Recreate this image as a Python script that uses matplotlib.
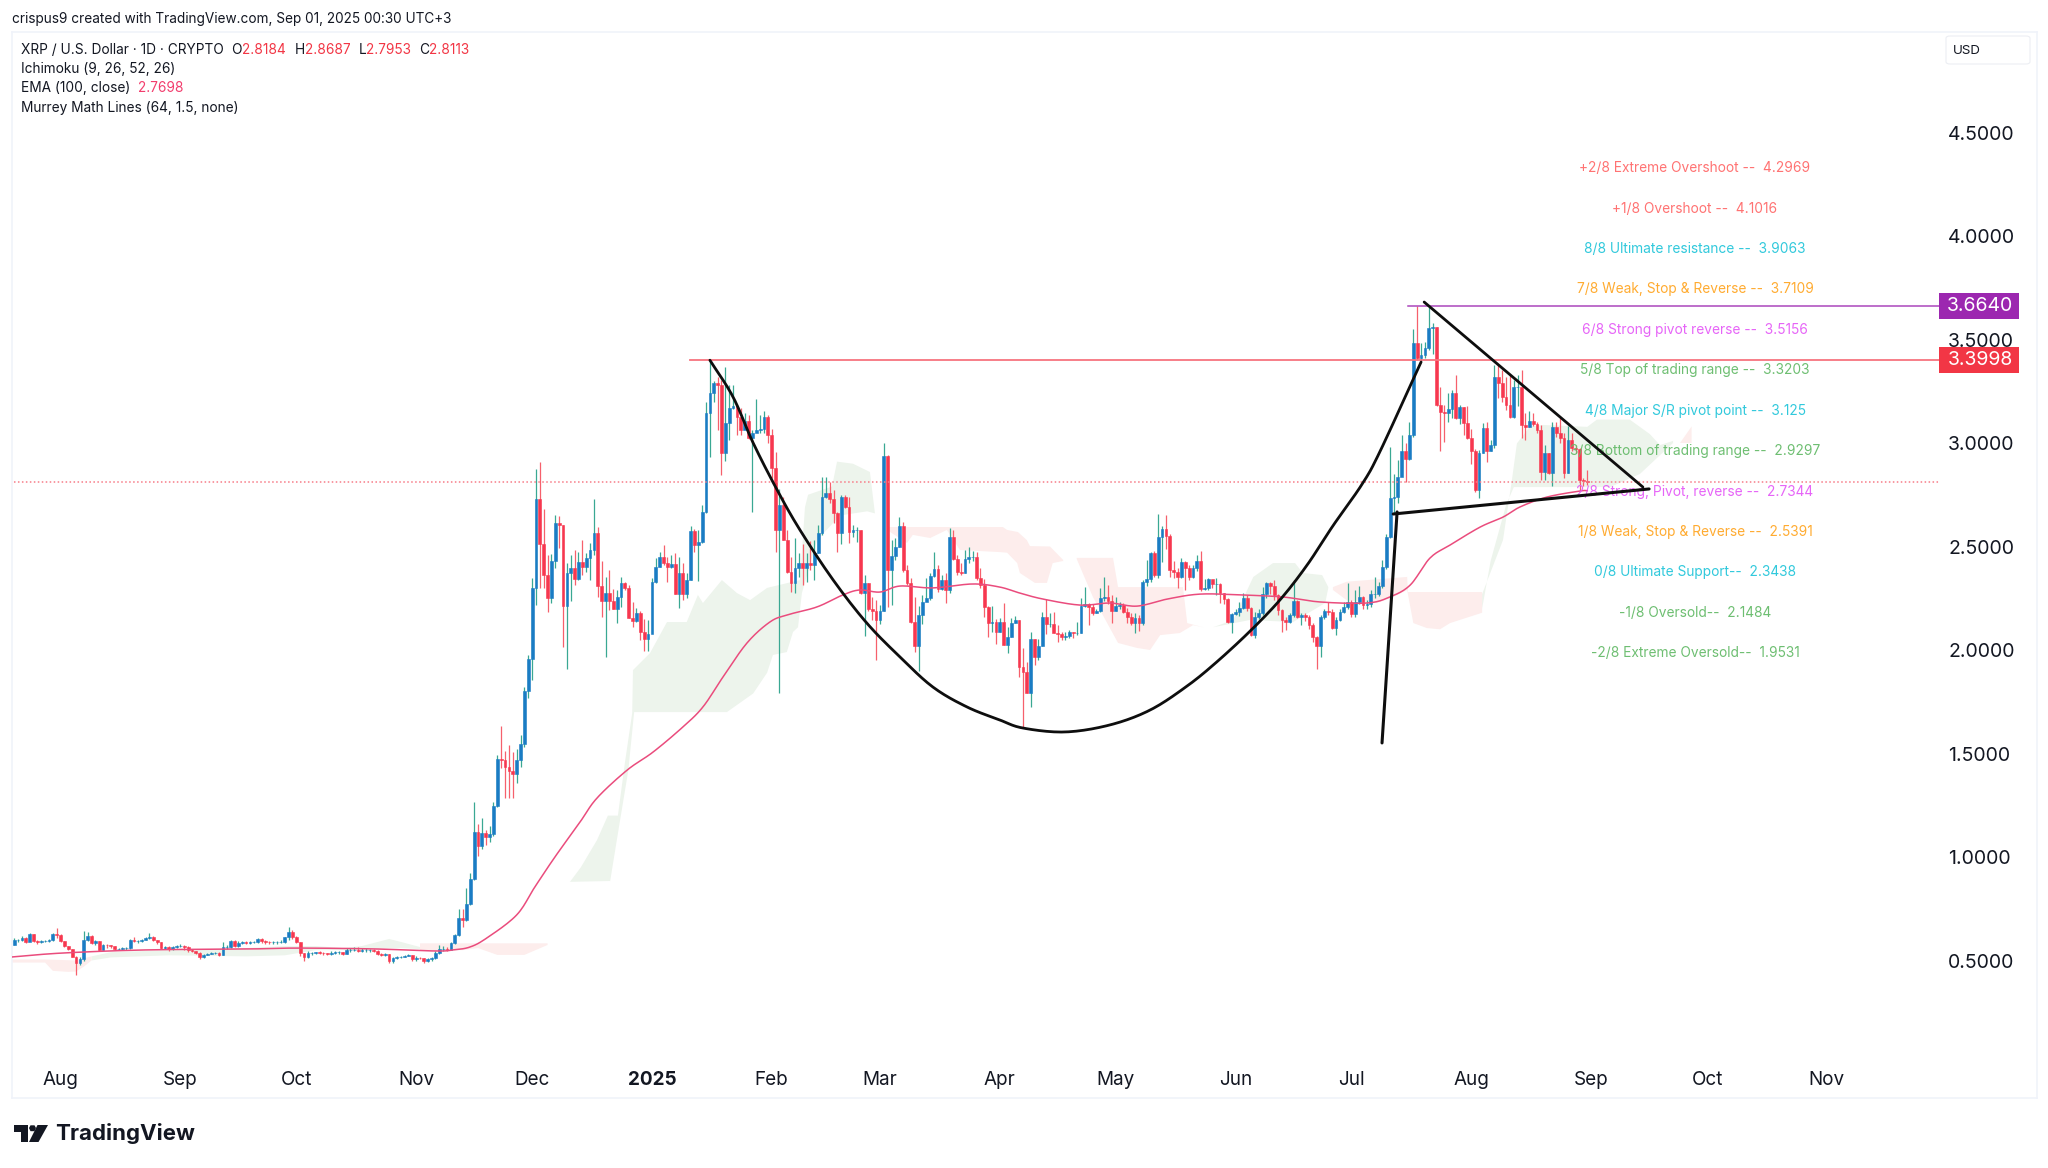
import matplotlib
matplotlib.use("Agg")
import matplotlib.pyplot as plt
from matplotlib.patches import Rectangle, FancyBboxPatch, Polygon
import numpy as np

plt.rcParams['font.family'] = ['Inter', 'Roboto', 'DejaVu Sans']

# ---- OHLC, one value per day from 20 Jul 2024 to 31 Aug 2025 ----
first_open = 0.575
closes = [
 .599,.600,.607,.590,.626,.595,.590,.592,.595,.597,
 .628,.625,.595,.570,.555,.518,.486,.505,.599,.618,
 .583,.595,.550,.575,.573,.572,.555,.557,.560,.560,
 .599,.595,.595,.600,.610,.615,.600,.587,.560,.565,
 .555,.565,.570,.572,.567,.550,.547,.538,.515,.525,
 .530,.535,.536,.526,.563,.567,.596,.570,.586,.587,
 .586,.590,.590,.602,.595,.590,.587,.587,.588,.591,
 .612,.639,.612,.591,.534,.515,.534,.537,.540,.538,
 .535,.530,.538,.540,.540,.533,.550,.551,.552,.546,
 .550,.550,.550,.548,.530,.526,.530,.497,.510,.515,
 .518,.522,.526,.507,.513,.510,.497,.505,.510,.538,
 .554,.555,.553,.586,.623,.704,.695,.773,.892,1.12,
 1.055,1.117,1.098,1.11,1.246,1.473,1.47,1.433,1.417,1.40,
 1.468,1.544,1.80,1.955,2.298,2.728,2.512,2.362,2.25,2.43,
 2.615,2.603,2.214,2.37,2.395,2.342,2.424,2.403,2.446,2.483,
 2.567,2.31,2.238,2.277,2.238,2.20,2.258,2.322,2.298,2.153,
 2.142,2.18,2.088,2.053,2.077,2.327,2.40,2.45,2.422,2.40,
 2.415,2.27,2.37,2.27,2.34,2.575,2.507,2.523,2.668,3.143,
 3.243,3.291,3.28,2.953,3.098,3.168,3.18,3.127,3.063,3.106,
 3.022,3.05,3.063,3.066,3.127,3.038,2.877,2.58,2.70,2.53,
 2.378,2.325,2.398,2.418,2.394,2.418,2.41,2.47,2.563,2.74,
 2.76,2.728,2.663,2.563,2.737,2.692,2.572,2.58,2.58,2.277,
 2.322,2.196,2.19,2.145,2.19,2.937,2.386,2.454,2.50,2.60,
 2.386,2.322,2.137,2.02,2.169,2.233,2.25,2.357,2.39,2.293,
 2.338,2.29,2.544,2.438,2.378,2.37,2.44,2.447,2.45,2.346,
 2.314,2.206,2.132,2.137,2.088,2.137,2.024,2.061,2.132,2.145,
 1.919,1.895,1.79,2.051,1.967,2.019,2.161,2.124,2.125,2.083,
 2.079,2.064,2.067,2.088,2.08,2.083,2.212,2.222,2.206,2.18,
 2.19,2.249,2.257,2.238,2.19,2.212,2.217,2.185,2.158,2.129,
 2.153,2.129,2.33,2.341,2.47,2.362,2.544,2.583,2.55,2.386,
 2.378,2.354,2.426,2.394,2.354,2.394,2.43,2.293,2.298,2.341,
 2.317,2.317,2.273,2.244,2.137,2.174,2.182,2.201,2.249,2.201,
 2.072,2.161,2.18,2.269,2.322,2.309,2.265,2.193,2.145,2.137,
 2.169,2.238,2.161,2.169,2.158,2.12,2.064,2.019,2.161,2.19,
 2.185,2.108,2.145,2.185,2.209,2.233,2.172,2.233,2.257,2.217,
 2.222,2.27,2.27,2.309,2.402,2.547,2.732,2.74,2.837,2.961,
 2.923,3.038,3.485,3.409,3.425,3.457,3.554,3.56,3.183,3.15,
 3.147,3.162,3.24,3.12,3.175,3.095,3.022,2.961,2.773,2.95,
 3.071,2.961,2.99,3.32,3.288,3.224,3.183,3.127,3.269,3.272,
 3.087,3.079,3.108,3.09,3.063,2.858,2.95,2.853,3.076,3.047,
 3.022,2.857,3.014,2.974,2.97,2.821,2.8184,2.8113]
highs = [
 .61,.605,.617,.612,.635,.63,.60,.60,.60,.605,
 .632,.655,.628,.595,.572,.555,.52,.515,.644,.637,
 .625,.60,.595,.58,.58,.575,.572,.562,.565,.565,
 .605,.612,.60,.605,.615,.631,.618,.60,.588,.572,
 .568,.57,.575,.578,.575,.568,.555,.548,.54,.53,
 .535,.54,.54,.54,.59,.575,.60,.60,.592,.595,
 .592,.595,.596,.608,.61,.60,.595,.592,.592,.598,
 .615,.662,.645,.618,.59,.535,.545,.54,.542,.545,
 .54,.537,.545,.545,.545,.54,.56,.56,.565,.566,
 .558,.558,.556,.555,.55,.535,.535,.53,.515,.52,
 .522,.526,.53,.528,.52,.516,.512,.512,.515,.545,
 .575,.57,.565,.59,.63,.75,.75,.849,.924,1.267,
 1.159,1.187,1.13,1.15,1.264,1.493,1.633,1.514,1.541,1.509,
 1.52,1.589,1.82,1.976,2.346,2.873,2.91,2.68,2.459,2.464,
 2.652,2.647,2.604,2.419,2.459,2.483,2.475,2.531,2.47,2.515,
 2.728,2.593,2.43,2.351,2.386,2.293,2.29,2.351,2.33,2.314,
 2.234,2.201,2.19,2.15,2.145,2.346,2.443,2.475,2.507,2.451,
 2.46,2.467,2.451,2.419,2.37,2.599,2.583,2.58,2.7,3.2,
 3.401,3.30,3.32,3.304,3.365,3.28,3.28,3.184,3.167,3.143,
 3.135,3.063,3.211,3.135,3.155,3.135,3.07,2.958,2.78,2.74,
 2.58,2.45,2.54,2.47,2.51,2.47,2.528,2.53,2.604,2.837,
 2.837,2.813,2.773,2.668,2.749,2.749,2.741,2.604,2.596,2.58,
 2.362,2.322,2.257,2.24,2.217,2.998,2.942,2.531,2.54,2.644,
 2.62,2.41,2.346,2.257,2.213,2.266,2.346,2.37,2.475,2.41,
 2.36,2.37,2.588,2.58,2.459,2.42,2.483,2.499,2.48,2.475,
 2.395,2.341,2.212,2.212,2.15,2.153,2.228,2.112,2.153,2.164,
 2.145,2.008,1.943,2.088,2.051,2.051,2.185,2.244,2.177,2.185,
 2.121,2.088,2.088,2.096,2.088,2.137,2.249,2.302,2.228,2.222,
 2.2,2.298,2.354,2.314,2.265,2.257,2.23,2.225,2.201,2.18,
 2.18,2.17,2.34,2.435,2.475,2.48,2.657,2.60,2.652,2.56,
 2.43,2.394,2.443,2.43,2.41,2.41,2.46,2.48,2.345,2.35,
 2.34,2.35,2.325,2.275,2.25,2.18,2.2,2.23,2.273,2.265,
 2.21,2.185,2.2,2.306,2.33,2.33,2.338,2.27,2.2,2.16,
 2.18,2.338,2.24,2.18,2.18,2.17,2.13,2.07,2.17,2.2,
 2.233,2.2,2.16,2.2,2.23,2.325,2.24,2.29,2.31,2.26,
 2.24,2.29,2.354,2.33,2.435,2.56,2.98,2.85,2.92,3.04,
 3.0,3.1,3.549,3.662,3.485,3.49,3.658,3.578,3.56,3.269,
 3.183,3.24,3.256,3.328,3.185,3.175,3.179,3.07,2.97,2.965,
 3.095,3.103,3.014,3.377,3.377,3.352,3.32,3.33,3.304,3.33,
 3.352,3.143,3.156,3.146,3.103,3.087,2.99,2.953,3.103,3.103,
 3.119,3.05,3.082,3.05,2.99,2.974,2.83,2.8687]
lows = [
 .575,.59,.595,.585,.595,.59,.58,.583,.59,.59,
 .595,.61,.59,.565,.55,.515,.43,.48,.50,.595,
 .58,.575,.545,.55,.56,.56,.55,.55,.552,.553,
 .555,.59,.585,.59,.60,.605,.595,.58,.555,.555,
 .545,.55,.56,.565,.55,.542,.54,.53,.505,.51,
 .525,.53,.53,.52,.525,.555,.56,.565,.565,.58,
 .58,.58,.585,.585,.585,.58,.58,.58,.58,.585,
 .585,.60,.605,.585,.52,.50,.51,.525,.53,.53,
 .525,.525,.525,.532,.532,.528,.53,.54,.545,.54,
 .54,.54,.54,.54,.525,.52,.52,.49,.49,.505,
 .51,.515,.52,.50,.50,.505,.49,.495,.50,.505,
 .53,.545,.545,.55,.58,.62,.66,.69,.77,.89,
 1.005,1.04,1.06,1.074,1.10,1.24,1.428,1.283,1.283,1.283,
 1.356,1.433,1.53,1.767,1.855,2.217,2.298,2.298,2.182,2.225,
 2.394,2.491,2.013,1.907,2.238,2.314,2.338,2.362,2.378,2.338,
 2.459,2.258,2.161,1.965,2.193,2.20,2.132,2.209,2.29,2.153,
 2.113,2.137,2.048,1.997,1.997,2.08,2.325,2.40,2.411,2.33,
 2.395,2.27,2.205,2.242,2.25,2.34,2.475,2.335,2.515,2.66,
 2.934,3.2,3.063,2.845,2.915,3.015,3.165,3.04,3.04,3.079,
 3.02,2.668,3.055,3.046,3.046,3.0,2.83,2.475,1.794,2.53,
 2.37,2.28,2.274,2.354,2.314,2.33,2.386,2.338,2.467,2.555,
 2.733,2.708,2.615,2.475,2.512,2.684,2.515,2.547,2.523,2.27,
 2.07,2.19,2.145,1.95,2.128,2.19,2.21,2.217,2.435,2.50,
 2.378,2.314,2.13,1.99,1.90,2.128,2.245,2.242,2.354,2.28,
 2.29,2.225,2.274,2.435,2.36,2.36,2.37,2.42,2.43,2.338,
 2.298,2.158,2.064,2.088,2.029,2.088,2.024,1.987,2.061,2.129,
 1.868,1.621,1.79,1.723,1.927,1.951,2.019,2.077,2.112,2.083,
 2.037,2.048,2.05,2.056,2.06,2.072,2.083,2.209,2.121,2.169,
 2.177,2.185,2.238,2.22,2.129,2.19,2.2,2.18,2.129,2.12,
 2.08,2.09,2.12,2.31,2.33,2.355,2.35,2.426,2.49,2.354,
 2.346,2.298,2.35,2.29,2.34,2.35,2.38,2.286,2.29,2.29,
 2.30,2.265,2.228,2.22,2.13,2.083,2.168,2.165,2.2,2.19,
 2.067,2.06,2.15,2.17,2.25,2.27,2.24,2.17,2.088,2.096,
 2.13,2.16,2.155,2.12,2.14,2.1,2.04,1.91,1.968,2.15,
 2.17,2.1,2.072,2.14,2.18,2.2,2.16,2.16,2.22,2.2,
 2.2,2.21,2.25,2.26,2.3,2.39,2.54,2.66,2.71,2.88,
 2.81,2.92,3.03,3.40,3.39,3.41,3.45,3.43,3.18,2.963,
 3.006,3.10,3.12,3.115,3.09,3.04,3.02,2.90,2.765,2.733,
 2.95,2.91,2.96,2.974,3.216,3.2,3.16,3.12,3.12,3.18,
 3.022,3.014,3.075,3.08,3.05,2.82,2.82,2.85,2.79,3.03,
 3.0,2.83,2.853,2.96,2.95,2.773,2.79,2.7953]

# ---- EMA 100 (bar index, price) ----
ema_x = [-0.6,12.4,33.8,61.6,73.2,92.8,109,113.5,117.9,122.3,130,134.7,139.9,146.4,150.8,158.6,165.3,173,178.2,183.4,
         189.6,195.5,199.9,207.7,214.4,218.8,224,229.2,237.7,248,255,260.2,266.2,275.8,283.5,290.5,298.3,306.8,317.2,
         328.3,337.9,350,355.9,361.2,366.3,371.5,379.3,385.2,389.6,396.6,405.1,407]
ema_y = [.517,.536,.551,.556,.56,.556,.546,.551,.565,.609,.72,.855,1.0,1.169,1.285,1.42,1.507,1.628,1.725,1.87,
         2.034,2.135,2.169,2.208,2.266,2.29,2.28,2.309,2.30,2.319,2.304,2.275,2.246,2.217,2.227,2.212,2.246,2.27,2.266,
         2.256,2.232,2.227,2.256,2.314,2.444,2.507,2.594,2.642,2.691,2.739,2.768,2.7698]

# ---- Ichimoku cloud outlines: (top x, top price, bottom x, bottom price) ----
green_clouds = [
 ([20,25,40,60,70,78,85,90,97,100,105],[.52,.54,.55,.56,.57,.57,.56,.57,.604,.59,.565],
  [20,25,40,60,70,78,85,90,97,100,105],[.50,.515,.525,.52,.525,.55,.55,.55,.56,.56,.555]),
 ([143.8,146.6,150.8,153.6,156.2,158,159.9,160.1,164.5,168.9,174,176.9,178.2,183.1,187,190.4,194.8,203.3,204.6,205.4,211.6,212.9,217,221.4,222.7],
  [.88,.95,1.082,1.20,1.20,1.454,1.696,1.903,1.985,2.135,2.135,2.266,2.227,2.338,2.275,2.241,2.30,2.338,2.69,2.75,2.79,2.91,2.90,2.86,2.66],
  [143.8,154.2,155.9,158.9,160.4,184.4,191.2,194.8,196.3,199.9,201.5,202.8,203.8,207.7,213.7,220.7,222.7],
  [.88,.884,1.08,1.42,1.70,1.70,1.79,1.89,1.976,1.99,2.087,2.11,2.275,2.53,2.65,2.67,2.66]),
 ([310.2,315.4,320.6,325.7,331.4,333.4,338.4,340],[2.11,2.145,2.353,2.42,2.42,2.372,2.362,2.304],
  [310.2,319.7,330.9,339.2,340],[2.11,2.145,2.135,2.227,2.30]),
 ([379.8,385.2,387.5,388.8,392.2,395.6,407,409.5,418,423.2,425.8,429.2],[2.27,2.531,2.82,2.998,3.08,3.087,3.078,3.113,3.113,3.043,2.99,3.01],
  [379.8,382,386,388,412.9,420.6,429.2],[2.20,2.43,2.70,2.787,2.787,2.85,3.0]),
]
red_clouds = [
 ([-0.6,8,16,20],[.505,.505,.50,.52],[-0.6,8,10,14,16,18,20],[.49,.49,.45,.445,.447,.47,.50]),
 ([105,138],[.583,.583],[105,116,120,125,132,138],[.55,.55,.56,.527,.527,.575]),
 ([225.8,255.8,256.9,259.7,262,262.8,268,271.4],[2.594,2.594,2.58,2.57,2.531,2.502,2.5,2.435],
  [225.8,231,232.5,237,241.3,244.7,255,256.9,259.5,260.2,264.1,267.2,268.7,271.4],
  [2.58,2.517,2.556,2.541,2.58,2.483,2.473,2.47,2.42,2.372,2.324,2.324,2.42,2.43]),
 ([274.9,284.3,285.6,302.4,303.5,307.6],[2.445,2.445,2.304,2.304,2.13,2.11],
  [274.9,279.1,285.6,290.5,293.9,296.5,301.6,305,307.6],[2.44,2.256,2.034,2.01,2.0,2.072,2.082,2.12,2.11]),
 ([341.2,344.8,360.4,360.6,379.8],[2.304,2.33,2.353,2.28,2.28],
  [341.2,344.8,352.6,356.8,360.4,362,365.5,368.9,371.5,379.8],[2.29,2.24,2.227,2.256,2.29,2.13,2.106,2.10,2.13,2.18]),
 ([431,434],[3.0,3.08],[431,434],[3.0,3.0]),
]

# ---- Hand-drawn patterns ----
cup_x = [180,186,191.2,197.4,203.3,211.9,220.6,229.2,237.7,246.5,255,261,271.9,283.5,293.9,303.4,311,319.7,327.5,334.5,341.2,348.7,353.4,364]
cup_y = [3.40,3.222,3.0,2.773,2.58,2.338,2.13,1.966,1.821,1.725,1.662,1.623,1.604,1.638,1.71,1.825,1.94,2.09,2.242,2.41,2.60,2.80,2.96,3.391]
tri_upper_x, tri_upper_y = [364.8,421.4], [3.681,2.787]
tri_lower_x, tri_lower_y = [356.8,423], [2.657,2.778]
pole_x, pole_y = [357.8,353.9], [2.667,1.551]

# ---- Levels ----
high_level, high_start = 3.6640, 360.6
res_level, res_start = 3.3998, 174.9
last_close = 2.8113

murrey_labels = ["+2/8 Extreme Overshoot --  4.2969","+1/8 Overshoot --  4.1016","8/8 Ultimate resistance --  3.9063",
                 "7/8 Weak, Stop & Reverse --  3.7109","6/8 Strong pivot reverse --  3.5156","5/8 Top of trading range --  3.3203",
                 "4/8 Major S/R pivot point --  3.125","3/8 Bottom of trading range --  2.9297","2/8 Strong, Pivot, reverse --  2.7344",
                 "1/8 Weak, Stop & Reverse --  2.5391","0/8 Ultimate Support--  2.3438","-1/8 Oversold--  2.1484","-2/8 Extreme Oversold--  1.9531"]
murrey_values = [4.2969,4.1016,3.9063,3.7109,3.5156,3.3203,3.125,2.9297,2.7344,2.5391,2.3438,2.1484,1.9531]
murrey_colors = ['#ff6b6b','#ff6b6b','#26c6da','#ffa726','#e55df7','#66bb6a','#26c6da','#66bb6a','#e55df7','#ffa726','#26c6da','#66bb6a','#66bb6a']

month_ticks = [12,43,73,104,134,165,196,224,255,285,316,346,377,408,438,469]
month_labels = ['Aug','Sep','Oct','Nov','Dec','2025','Feb','Mar','Apr','May','Jun','Jul','Aug','Sep','Oct','Nov']
price_ticks = [0.5,1.0,1.5,2.0,2.5,3.0,3.5,4.0,4.5]


def smooth(xs, ys, n=12):
    """Catmull-Rom curve through the read points."""
    p = np.column_stack([xs, ys])
    p = np.vstack([2*p[0]-p[1], p, 2*p[-1]-p[-2]])
    t = np.linspace(0, 1, n, endpoint=False)[:, None]
    out = []
    for i in range(1, len(p)-2):
        a, b, c_, d = p[i-1], p[i], p[i+1], p[i+2]
        out.append(0.5*(2*b + (c_-a)*t + (2*a-5*b+4*c_-d)*t**2 + (3*b-a-3*c_+d)*t**3))
    out.append(p[-2][None, :])
    out = np.vstack(out)
    return out[:, 0], out[:, 1]


W, H = 2048, 1168
fig = plt.figure(figsize=(W/100, H/100), dpi=100, facecolor='white')
fx = lambda x: x/W
fy = lambda y: 1 - y/H
L, R, T, B = 12, 2037, 32, 1098
ax = fig.add_axes([fx(L), fy(B), (R-L)/W, (B-T)/H])
ax.set_xlim((L-14.2)/3.865, (R-14.2)/3.865)
ax.set_ylim(3+(443-B)/207, 3+(443-T)/207)
for s in ax.spines.values():
    s.set_color('#f0f3fa'); s.set_linewidth(1.2)

# Clouds
for tx, ty, bx, by in green_clouds:
    ax.fill(list(tx)+list(bx)[::-1], list(ty)+list(by)[::-1], color='#edf4ec', lw=0, zorder=1)
for tx, ty, bx, by in red_clouds:
    ax.fill(list(tx)+list(bx)[::-1], list(ty)+list(by)[::-1], color='#fdedec', lw=0, zorder=1)

# Candles
c = np.array(closes); h = np.array(highs); l = np.array(lows)
o = np.r_[first_open, c[:-1]]
x = np.arange(len(c))
up = c >= o
ax.vlines(x[up], l[up], h[up], color='#3aa893', lw=0.9, zorder=2)
ax.vlines(x[~up], l[~up], h[~up], color='#f6606c', lw=0.9, zorder=2)
ax.bar(x[up], (c-o)[up], bottom=o[up], width=0.72, color='#1a7cc4', edgecolor='#1a7cc4', lw=0.4, zorder=3)
ax.bar(x[~up], (c-o)[~up], bottom=o[~up], width=0.72, color='#f7374f', edgecolor='#f7374f', lw=0.4, zorder=3)

# EMA and levels
ex, ey = smooth(ema_x, ema_y)
ax.plot(ex, ey, color='#ea4c7d', lw=1.1, zorder=4)
x_tag = (1939-14.2)/3.865
ax.plot([high_start, x_tag], [high_level]*2, color='#ab47bc', lw=1.1, zorder=4)
ax.plot([res_start, x_tag], [res_level]*2, color='#f7747f', lw=1.3, zorder=4)
ax.plot([x[0]-1, x_tag], [last_close]*2, color='#f77c88', lw=1.1, ls=(0, (1, 1.6)), zorder=4)

# Murrey labels
for t, v, col in zip(murrey_labels, murrey_values, murrey_colors):
    ax.text((1695-14.2)/3.865, v+0.031, t, color=col, fontsize=9.9, ha='center', va='center', zorder=5, alpha=0.95)

# Patterns
cx, cy = smooth(cup_x, cup_y)
for xs, ys, lw in [(cx, cy, 2.0), (tri_upper_x, tri_upper_y, 2.0), (tri_lower_x, tri_lower_y, 2.2), (pole_x, pole_y, 2.2)]:
    ax.plot(xs, ys, color='#0e0e0e', lw=lw, zorder=6, solid_capstyle='round', solid_joinstyle='round')

# Axes ticks
ax.set_xticks(month_ticks)
ax.set_xticklabels(month_labels, fontsize=13.6, color='#131722')
ax.get_xticklabels()[5].set_fontweight('bold')
ax.tick_params(axis='x', length=0, pad=-19.6)
ax.yaxis.tick_right()
ax.set_yticks(price_ticks)
ax.set_yticklabels([f'{v:.4f}' for v in price_ticks], fontsize=14, color='#131722')
ax.tick_params(axis='y', length=0, pad=-64)
for t in ax.get_yticklabels():
    t.set_ha('left')

# Price tags
for v, col in [(high_level, '#9c27b0'), (res_level, '#f23645')]:
    ax.add_patch(Rectangle((x_tag, v-0.063), 80/3.865, 0.126, fc=col, ec='none', zorder=7))
    ax.text(x_tag+41/3.865, v, f'{v:.4f}', color='white', fontsize=14, ha='center', va='center', zorder=8)

# USD box
fig.add_artist(FancyBboxPatch((fx(1946), fy(64)), 84/W, 28/H, boxstyle='round,pad=0,rounding_size=0.002',
                              fc='white', ec='#eceef3', lw=0.8, transform=fig.transFigure))
fig.text(fx(1967), fy(51), 'USD', fontsize=9.6, color='#131722', ha='center', va='center')

# Header
dark = '#131722'; red = '#f23645'
fig.text(fx(11.5), fy(19), 'crispus9 created with TradingView.com, Sep 01, 2025 00:30 UTC+3', fontsize=9.8, color=dark, va='center')
fig.text(fx(21), fy(49.5), 'XRP / U.S. Dollar · 1D · CRYPTO', fontsize=9.85, color=dark, va='center')
for px, s, col in [(231.5,'O',dark),(242,'2.8184',red),(294.7,'H',dark),(305,'2.8687',red),(358.6,'L',dark),(366,'2.7953',red),(419,'C',dark),(429,'2.8113',red)]:
    fig.text(fx(px), fy(49.5), s, fontsize=9.85, color=col, va='center')
fig.text(fx(21), fy(69), 'Ichimoku (9, 26, 52, 26)', fontsize=9.85, color=dark, va='center')
fig.text(fx(21), fy(88), 'EMA (100, close)', fontsize=9.85, color=dark, va='center')
fig.text(fx(138), fy(88), '2.7698', fontsize=9.85, color='#f23d6d', va='center')
fig.text(fx(21), fy(108), 'Murrey Math Lines (64, 1.5, none)', fontsize=9.85, color=dark, va='center')

# Logo
blk = '#131722'
P = lambda pts: [(fx(a), fy(b)) for a, b in pts]
fig.add_artist(Polygon(P([(13.5,1125),(27.5,1125),(27.5,1142),(20.5,1142),(20.5,1131.5),(13.5,1131.5)]), fc=blk, ec='none', transform=fig.transFigure))
fig.add_artist(Polygon(P([(37.5,1125),(48,1125),(38.5,1142),(29,1142)]), fc=blk, ec='none', transform=fig.transFigure))
fig.add_artist(Polygon(P([(30.5,1125.3),(34.5,1125.3),(36,1128),(34.5,1131.2),(30.5,1131.2),(29,1128)]), fc=blk, ec='none', transform=fig.transFigure))
fig.text(fx(55.5), fy(1134), 'TradingView', fontsize=16, fontweight='bold', color=blk, va='center')

fig.savefig('out.png', dpi=100, facecolor='white')
